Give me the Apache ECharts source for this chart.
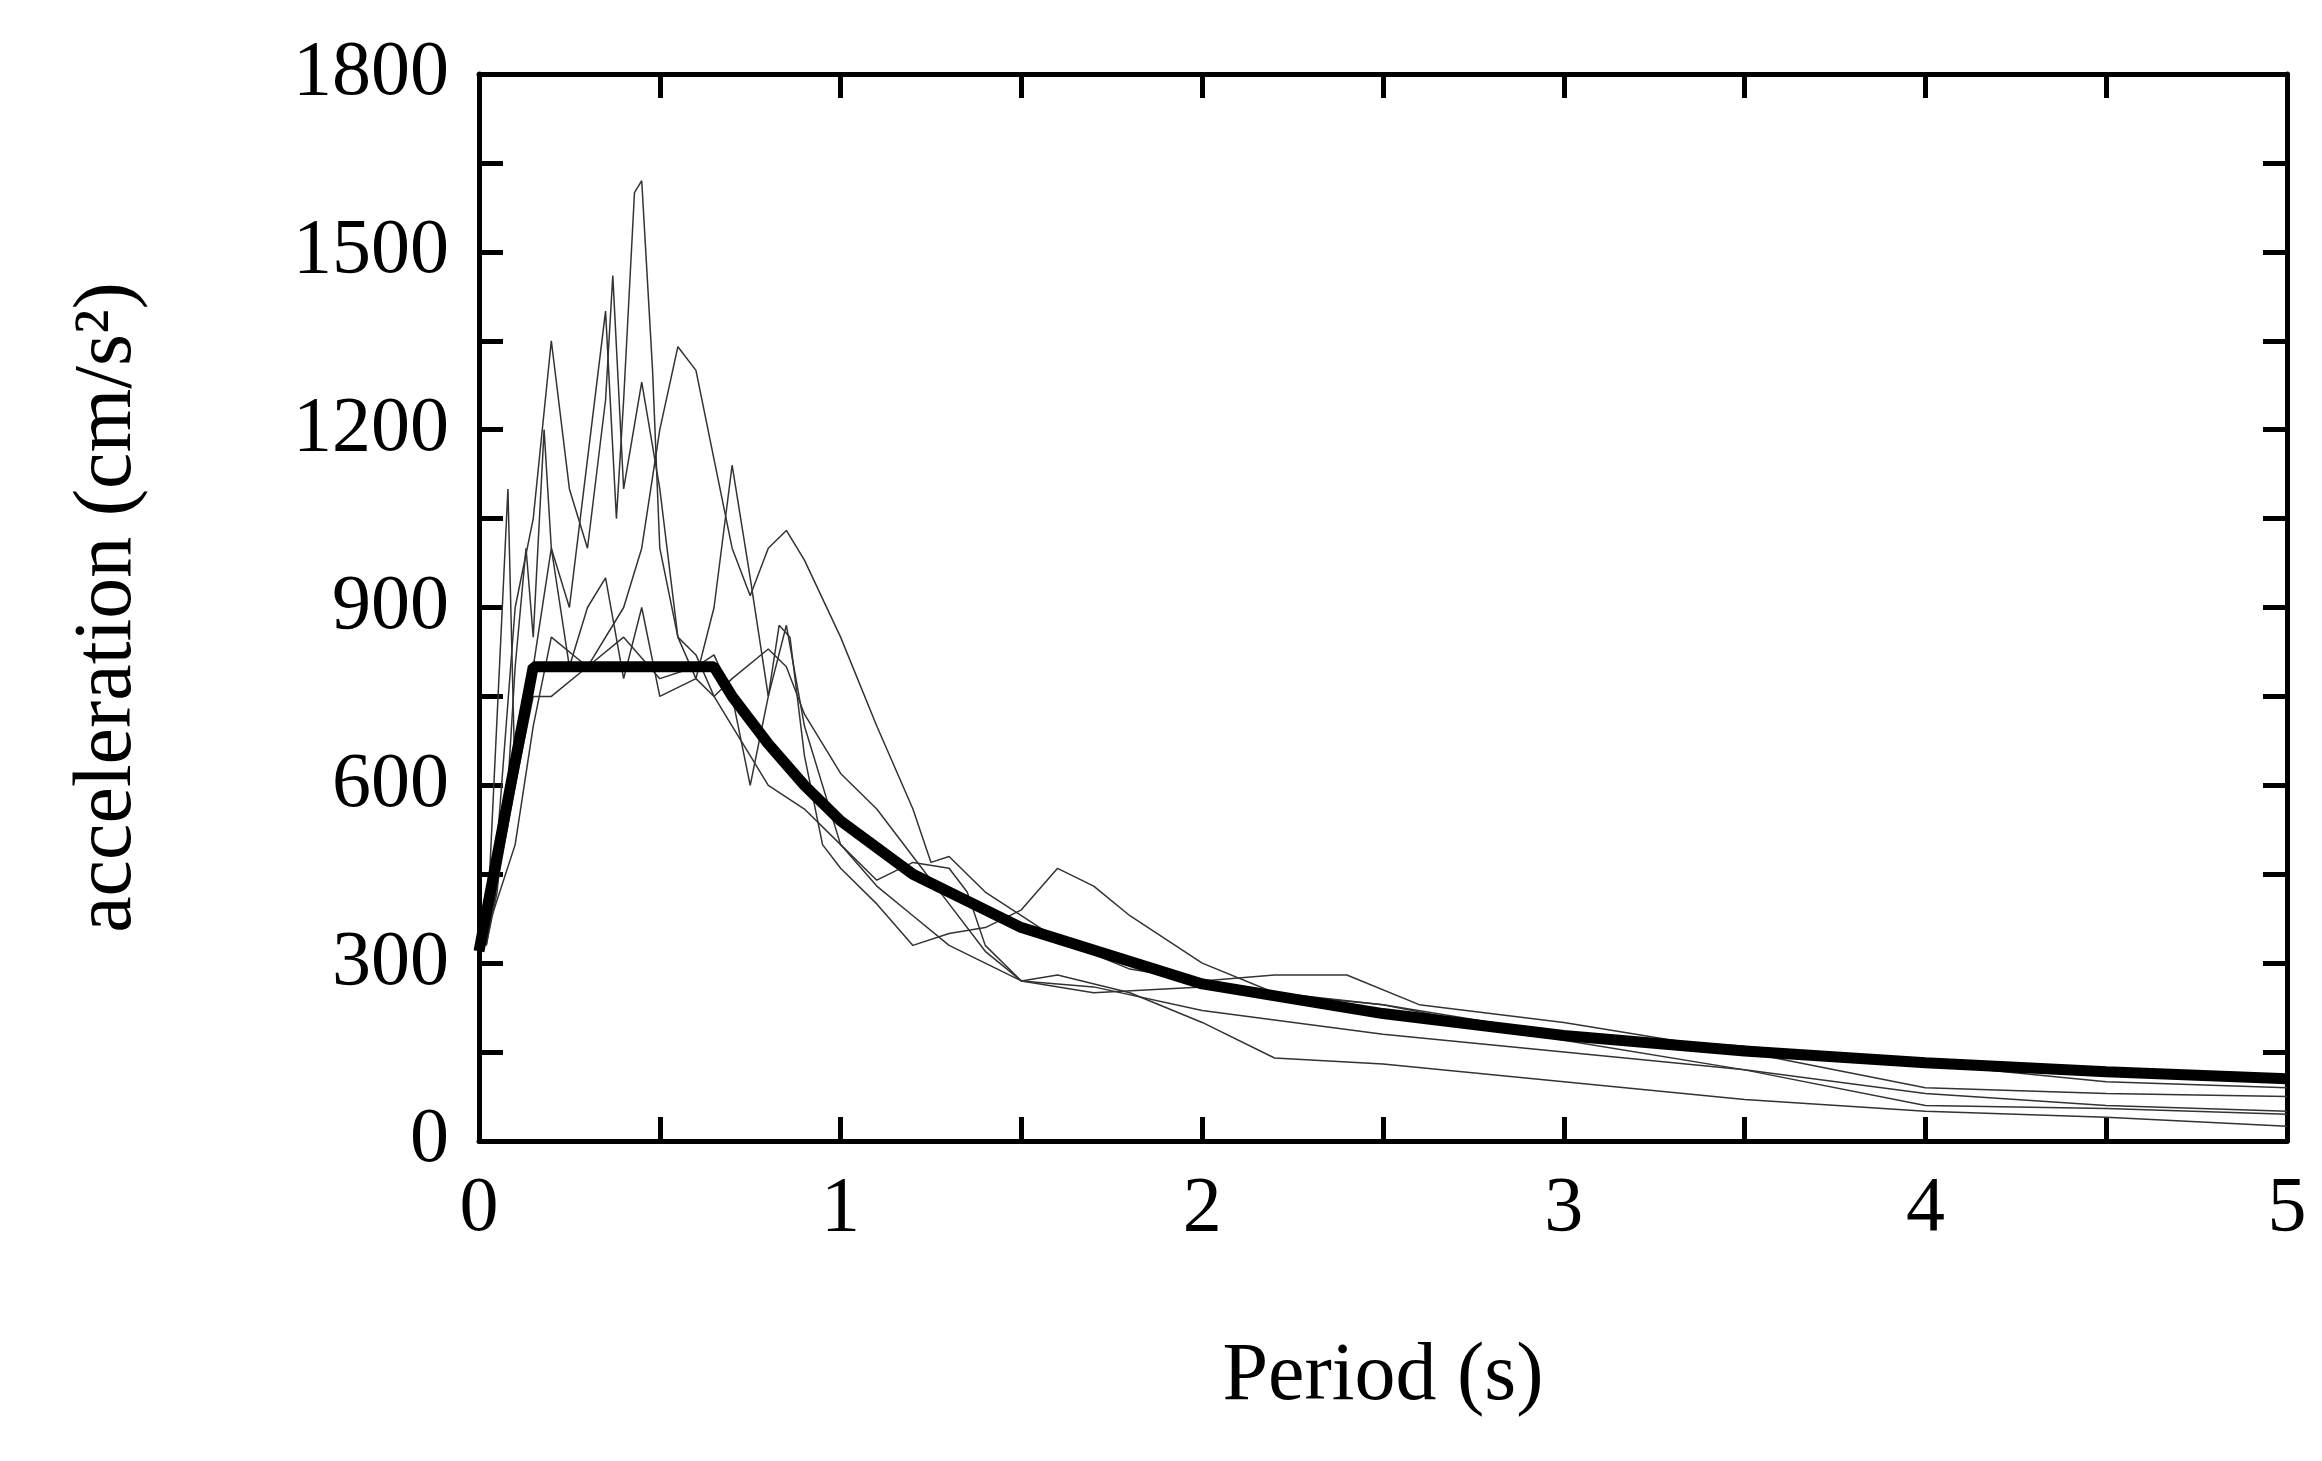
<!DOCTYPE html>
<html>
<head>
<meta charset="utf-8">
<script src="https://cdn.jsdelivr.net/npm/echarts@6/dist/echarts.min.js"></script>
<style>html,body{margin:0;padding:0;background:#fff}#chart{width:2322px;height:1461px}</style>
</head>
<body>
<div id="chart"></div>
<script>
// design spectrum
const designT = [0, 0.15, 0.65, 0.7, 0.8, 0.9, 1.0, 1.2, 1.5, 2.0, 2.5, 3.0, 3.5, 4.0, 4.5, 5.0];
const designA = [320, 800, 800, 750, 670, 600, 540, 450, 360, 265, 215, 178, 152, 132, 117, 105];

// recorded response spectra, [period, acceleration]
const recordA = [[0.02,330],[0.05,420],[0.08,600],[0.1,800],[0.13,1000],[0.15,850],[0.18,1200],[0.2,1000],[0.25,900],[0.3,1150],[0.35,1400],[0.38,1050],[0.4,1250],[0.43,1600],[0.45,1620],[0.48,1300],[0.5,1000],[0.55,850],[0.6,820],[0.65,750],[0.7,700],[0.75,650],[0.8,600],[0.9,560],[1.0,500],[1.1,430],[1.2,380],[1.3,330],[1.4,300],[1.5,270],[1.7,260],[2.0,220],[2.5,180],[3,150],[3.5,120],[4,80],[4.5,60],[5,50]];
const recordB = [[0.02,350],[0.1,500],[0.15,700],[0.2,850],[0.3,800],[0.4,900],[0.45,1000],[0.5,1200],[0.55,1340],[0.6,1300],[0.65,1150],[0.7,1000],[0.75,920],[0.8,1000],[0.85,1030],[0.9,980],[1.0,850],[1.1,700],[1.2,560],[1.25,470],[1.3,480],[1.4,420],[1.5,380],[1.6,340],[1.8,290],[2.0,270],[2.2,280],[2.4,280],[2.6,230],[3,200],[3.5,150],[4,90],[4.5,80],[5,75]];
const recordC = [[0.02,350],[0.05,500],[0.1,900],[0.15,1050],[0.2,1350],[0.25,1100],[0.3,1000],[0.35,1250],[0.37,1460],[0.4,1100],[0.45,1280],[0.5,1100],[0.55,850],[0.6,780],[0.65,900],[0.7,1140],[0.75,950],[0.8,750],[0.85,870],[0.9,700],[1.0,500],[1.1,440],[1.2,470],[1.3,460],[1.35,420],[1.4,330],[1.5,270],[1.6,280],[1.8,250],[2.0,200],[2.2,140],[2.5,130],[3,100],[3.5,70],[4,50],[4.5,40],[5,25]];
const recordD = [[0.02,330],[0.1,600],[0.15,750],[0.2,750],[0.3,800],[0.4,850],[0.5,780],[0.6,800],[0.65,820],[0.7,750],[0.75,600],[0.8,750],[0.83,870],[0.86,850],[0.9,650],[0.95,500],[1.0,460],[1.1,400],[1.2,330],[1.3,350],[1.4,360],[1.5,390],[1.6,460],[1.7,430],[1.8,380],[2.0,300],[2.2,250],[2.5,230],[3,170],[3.5,120],[4,60],[4.5,55],[5,45]];
const recordE = [[0.02,330],[0.08,1100],[0.1,600],[0.15,800],[0.2,1000],[0.25,800],[0.3,900],[0.35,950],[0.4,780],[0.45,900],[0.5,750],[0.6,780],[0.65,750],[0.7,780],[0.8,830],[0.85,800],[0.9,720],[1.0,620],[1.1,560],[1.2,480],[1.3,400],[1.4,320],[1.5,270],[1.7,250],[2.0,260],[2.5,230],[3,180],[3.5,160],[4,130],[4.5,100],[5,90]];
const records = [recordA, recordB, recordC, recordD, recordE];

const chart = echarts.init(document.getElementById('chart'));
const font = 'Liberation Serif';
const tickStyle = { color: '#000', width: 5 };

function axis(base) {
  return Object.assign({
    type: 'value',
    axisLine: { show: true, onZero: false, lineStyle: tickStyle },
    axisTick: { show: true, inside: true, length: 24, lineStyle: tickStyle },
    minorTick: { show: true, splitNumber: 2, length: 24, lineStyle: tickStyle },
    splitLine: { show: false }
  }, base);
}

const series = records.map(r => ({
  type: 'line', data: r, showSymbol: false, xAxisIndex: 0, yAxisIndex: 0,
  lineStyle: { color: '#333', width: 1.5 }, z: 2
}));
series.push({
  type: 'line', data: designT.map((t, i) => [t, designA[i]]), showSymbol: false,
  lineStyle: { color: '#000', width: 11 }, z: 3
});

chart.setOption({
  animation: false,
  grid: { left: 479, right: 35, top: 74, bottom: 320 },
  xAxis: [
    axis({
      min: 0, max: 5, interval: 1, position: 'bottom',
      axisLabel: { fontFamily: font, fontSize: 78, color: '#000', margin: 30 },
      name: 'Period (s)', nameLocation: 'middle', nameGap: 195,
      nameTextStyle: { fontFamily: font, fontSize: 82, color: '#000' }
    }),
    axis({ min: 0, max: 5, interval: 1, position: 'top', axisLabel: { show: false } })
  ],
  yAxis: [
    axis({
      min: 0, max: 1800, interval: 300, position: 'left',
      axisLabel: { fontFamily: font, fontSize: 78, color: '#000', margin: 30, formatter: v => String(v) },
      name: 'acceleration (cm/s²)', nameLocation: 'middle', nameGap: 330,
      nameTextStyle: { fontFamily: font, fontSize: 82, color: '#000' }
    }),
    axis({ min: 0, max: 1800, interval: 300, position: 'right', axisLabel: { show: false } })
  ],
  series: series
});
</script>
</body>
</html>
